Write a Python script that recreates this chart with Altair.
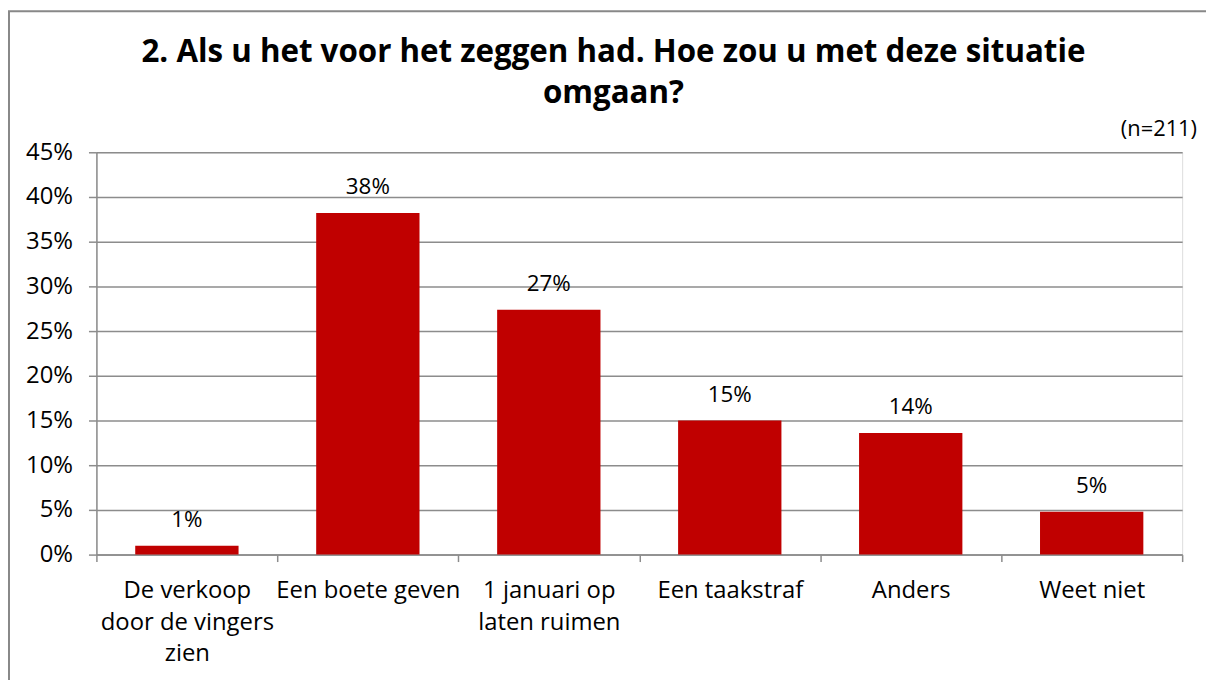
import altair as alt
import pandas as pd

categories = ["De verkoop|door de vingers|zien", "Een boete geven", "1 januari op|laten ruimen",
              "Een taakstraf", "Anders", "Weet niet"]
values = [0.010, 0.382, 0.274, 0.150, 0.136, 0.048]
title_lines = ["2. Als u het voor het zeggen had. Hoe zou u met deze situatie", "omgaan?"]
note = "(n=211)"
y_ticks = [0, 0.05, 0.10, 0.15, 0.20, 0.25, 0.30, 0.35, 0.40, 0.45]

df = pd.DataFrame({"cat": categories, "val": values})

FONT = "Open Sans"
GRID = "#8c8c8c"
W, H = 1093, 405

x_enc = alt.X("cat:N", sort=categories,
              scale=alt.Scale(paddingInner=0, paddingOuter=0),
              axis=alt.Axis(title=None, labelAngle=0, labelFont=FONT, labelFontSize=24,
                            labelColor="black", labelLimit=400,
                            labelExpr="datum.value ? split(datum.value, '|') : ''",
                            labelLineHeight=32, labelPadding=17, labelBaseline="top",
                            tickBand="extent", tickSize=7, tickColor=GRID, tickWidth=1.5,
                            domainColor=GRID, domainWidth=1.5, grid=False))
y_enc = alt.Y("val:Q", scale=alt.Scale(domain=[0, 0.45], nice=False),
              axis=alt.Axis(title=None, values=y_ticks, format=".0%", labelFont=FONT,
                            labelFontSize=24, labelColor="black", labelPadding=16,
                            tickSize=8, tickColor=GRID, tickWidth=1.5,
                            domainColor=GRID, domainWidth=1.5,
                            gridColor=GRID, gridWidth=1.5))

bars = alt.Chart(df).mark_bar(color="#C00000", width=alt.RelativeBandSize(0.571)).encode(
    x=x_enc, y=y_enc)

labels = alt.Chart(df).mark_text(font=FONT, fontSize=22.5, color="black", baseline="alphabetic",
                                 dy=-19).encode(
    x=alt.X("cat:N", sort=categories), y="val:Q", text=alt.Text("val:Q", format=".0%"))

note_df = pd.DataFrame({"t": [note]})
note_mark = alt.Chart(note_df).mark_text(font=FONT, fontSize=22, color="black", align="right",
                                         baseline="alphabetic").encode(
    x=alt.value(W + 15), y=alt.value(-16), text="t:N")

border = alt.Chart(note_df).mark_rect(fill=None, stroke="#888888", strokeWidth=2).encode(
    x=alt.value(-88), x2=alt.value(W + 60), y=alt.value(-142), y2=alt.value(H + 200))

chart = alt.layer(border, bars, labels, note_mark).properties(
    width=W, height=H,
    title=alt.TitleParams(text=title_lines, font=FONT, fontSize=31.5, fontWeight="bold",
                          color="black", anchor="middle", dx=-26, lineHeight=41,
                          baseline="bottom", offset=-132),
    padding={"left": 89, "top": 143, "right": 24, "bottom": 124},
    autosize=alt.AutoSizeParams(type="none"),
).configure_view(stroke=None).configure(background="white")

chart.save("out.html", embed_options={"renderer": "svg", "actions": False})
